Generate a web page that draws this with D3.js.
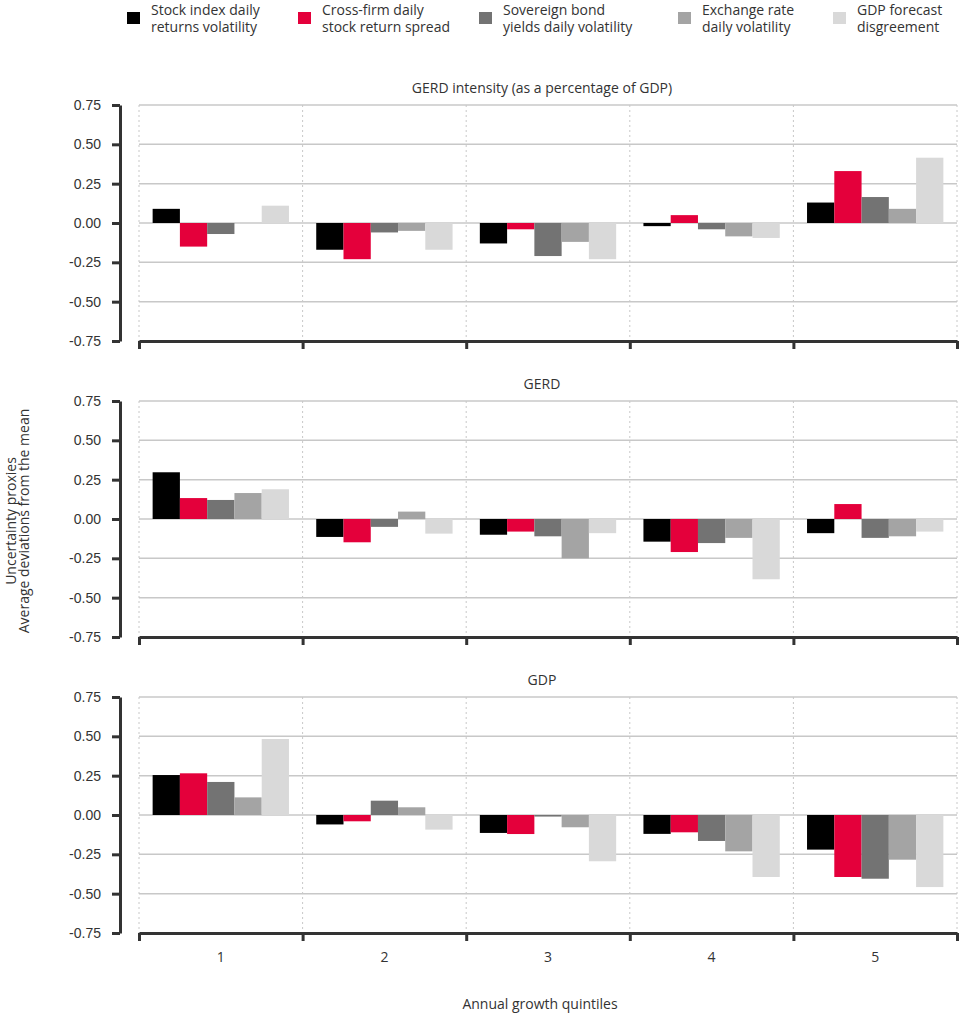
<!DOCTYPE html>
<html>
<head>
<meta charset="utf-8">
<script src="https://cdn.jsdelivr.net/npm/d3@7"></script>
<style>
  body { margin: 0; background: #fff; }
  svg { font-family: "Open Sans", "DejaVu Sans", sans-serif; }
  .grid line { stroke: #c8c8c8; stroke-width: 1.5; }
  .vgrid line { stroke: #c8c8c8; stroke-width: 1; stroke-dasharray: 2 3; }
  .axis path, .axis line { stroke: #333; }
  .axis text { fill: #333; font-size: 14px; }
</style>
</head>
<body>
<svg width="960" height="1013"></svg>
<script>
const quintiles = ["1", "2", "3", "4", "5"];
const seriesNames = [
    "Stock index daily returns volatility",
    "Cross-firm daily stock return spread",
    "Sovereign bond yields daily volatility",
    "Exchange rate daily volatility",
    "GDP forecast disagreement"
];
const legendLines = [
    ["Stock index daily", "returns volatility"],
    ["Cross-firm daily", "stock return spread"],
    ["Sovereign bond", "yields daily volatility"],
    ["Exchange rate", "daily volatility"],
    ["GDP forecast", "disgreement"]
];
const colors = ["#000000", "#e4003b", "#737373", "#a4a4a4", "#d9d9d9"];
const panelTitles = ["GERD intensity (as a percentage of GDP)", "GERD", "GDP"];
const yTicks = [-0.75, -0.5, -0.25, 0, 0.25, 0.5, 0.75];

// values per quintile, one row per series
const gerdIntensity = [
    [0.09, -0.17, -0.13, -0.02, 0.13],
    [-0.15, -0.23, -0.04, 0.05, 0.33],
    [-0.07, -0.06, -0.21, -0.04, 0.165],
    [0.0, -0.05, -0.12, -0.085, 0.09],
    [0.11, -0.17, -0.23, -0.095, 0.415]
];
const gerd = [
    [0.297, -0.114, -0.10, -0.144, -0.09],
    [0.133, -0.148, -0.08, -0.21, 0.095],
    [0.121, -0.05, -0.11, -0.153, -0.12],
    [0.165, 0.047, -0.25, -0.12, -0.11],
    [0.189, -0.093, -0.09, -0.383, -0.08]
];
const gdp = [
    [0.254, -0.06, -0.114, -0.12, -0.22],
    [0.265, -0.04, -0.121, -0.11, -0.394],
    [0.21, 0.091, -0.01, -0.165, -0.405],
    [0.112, 0.049, -0.078, -0.231, -0.284],
    [0.483, -0.093, -0.294, -0.394, -0.458]
];
const panelData = [gerdIntensity, gerd, gdp];

const svg = d3.select("svg");
const left = 139, right = 957;
const panelTops = [105, 401, 697];
const panelH = 236;

const x = d3.scaleBand().domain(quintiles).range([left, right]);
const xSub = d3.scaleBand().domain(d3.range(seriesNames.length))
    .range([0, x.bandwidth()]).paddingOuter(0.5);
const xEdge = d3.scaleLinear().domain([0.5, 5.5]).range([left, right]);
const edges = d3.range(0.5, 6, 1);
const fmt = d => d3.format(".2f")(d).replace("\u2212", "-");

// legend
const legendX = [127, 298, 479, 678, 833];
const legend = svg.append("g").attr("class", "legend");
legendLines.forEach((lines, i) => {
    const g = legend.append("g").attr("transform", `translate(${legendX[i]},0)`);
    g.append("rect").attr("x", 0).attr("y", 12).attr("width", 13).attr("height", 12)
        .attr("fill", colors[i]);
    g.selectAll("text").data(lines).enter().append("text")
        .attr("x", 24).attr("y", (d, j) => 15 + j * 17)
        .attr("font-size", 14).attr("fill", "#333")
        .text(d => d);
});

panelData.forEach((rows, p) => {
    const top = panelTops[p];
    const y = d3.scaleLinear().domain([-0.75, 0.75]).range([top + panelH, top]);
    const g = svg.append("g");

    // horizontal grid
    g.append("g").attr("class", "grid").selectAll("line")
        .data(yTicks.slice(1)).enter().append("line")
        .attr("x1", left).attr("x2", right)
        .attr("y1", d => y(d)).attr("y2", d => y(d));

    // vertical dotted grid
    g.append("g").attr("class", "vgrid").selectAll("line")
        .data(edges).enter().append("line")
        .attr("x1", d => xEdge(d)).attr("x2", d => xEdge(d))
        .attr("y1", top).attr("y2", top + panelH);

    // bars
    rows.forEach((vals, s) => {
        g.append("g").selectAll("rect")
            .data(vals).enter().append("rect")
            .attr("x", (d, i) => x(quintiles[i]) + xSub(s))
            .attr("width", xSub.bandwidth())
            .attr("y", d => y(Math.max(0, d)))
            .attr("height", d => Math.abs(y(d) - y(0)))
            .attr("fill", colors[s]);
    });

    // y axis
    const ya = g.append("g").attr("class", "axis")
        .attr("transform", "translate(120,0)")
        .call(d3.axisLeft(y).tickValues(yTicks).tickFormat(fmt).tickSize(8).tickSizeOuter(0).tickPadding(11));
    ya.select(".domain").attr("stroke-width", 3);
    ya.selectAll(".tick line").attr("stroke-width", 3);

    // x axis
    const xa = g.append("g").attr("class", "axis")
        .attr("transform", `translate(0,${top + panelH})`)
        .call(d3.axisBottom(xEdge).tickValues(edges).tickFormat("").tickSize(8).tickSizeOuter(0));
    xa.select(".domain").attr("stroke-width", 3);
    xa.selectAll(".tick line").attr("stroke-width", 3);

    // panel title
    g.append("text")
        .attr("x", 542).attr("y", top - 12)
        .attr("text-anchor", "middle")
        .attr("font-size", 14).attr("fill", "#333")
        .text(panelTitles[p]);
});

// quintile labels under the last panel
svg.append("g").selectAll("text")
    .data(quintiles).enter().append("text")
    .attr("x", d => x(d) + x.bandwidth() / 2)
    .attr("y", panelTops[2] + panelH + 29)
    .attr("text-anchor", "middle")
    .attr("font-size", 14).attr("fill", "#333")
    .text(d => d);

svg.append("text")
    .attr("x", 540).attr("y", 1009)
    .attr("text-anchor", "middle")
    .attr("font-size", 14).attr("fill", "#333")
    .text("Annual growth quintiles");

const yTitle = svg.append("text")
    .attr("transform", "translate(0,521) rotate(-90)")
    .attr("text-anchor", "middle")
    .attr("font-size", 14).attr("fill", "#333");
yTitle.append("tspan").attr("x", 0).attr("y", 16).text("Uncertainty proxies");
yTitle.append("tspan").attr("x", 0).attr("y", 29).text("Average deviations from the mean");
</script>
</body>
</html>
